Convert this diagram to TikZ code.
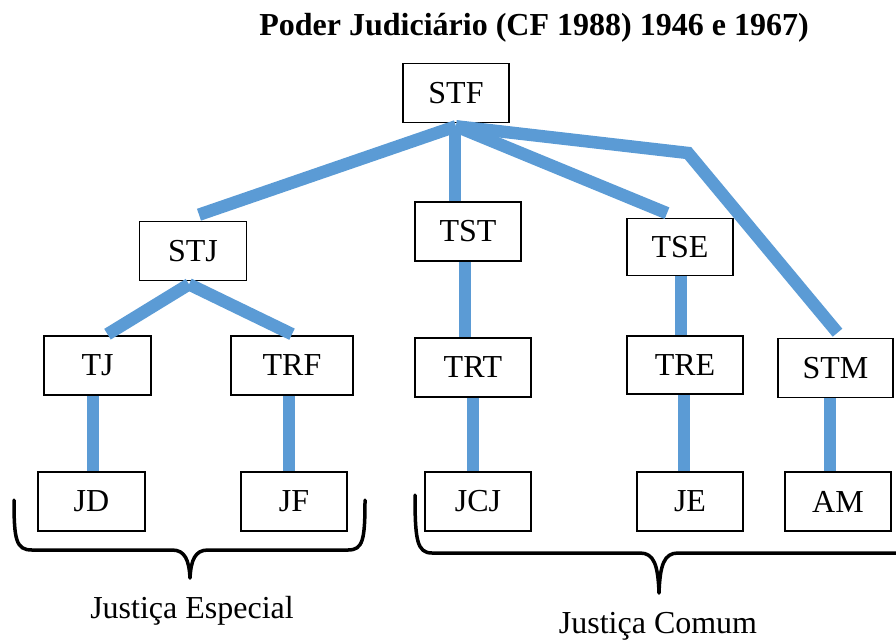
\documentclass[tikz,border=0pt]{standalone}
\usepackage{fontspec}
\setmainfont{Liberation Serif}
\usetikzlibrary{calc}
\definecolor{linkblue}{HTML}{5B9BD5}
\begin{document}
\begin{tikzpicture}[x=1pt,y=-1pt,
  court/.style={draw=black, line width=1.6pt, fill=white, minimum height=59pt,
    minimum width=106pt, inner sep=0pt, font=\fontsize{32}{38}\selectfont},
  link/.style={draw=linkblue, line width=12.5pt},
  brace/.style={draw=black, line width=3.5pt, line join=round, line cap=round},
  caption/.style={font=\fontsize{32}{38}\selectfont, inner sep=0pt}]
\useasboundingbox (0,0) rectangle (896,640);

% title
\node[caption, font=\fontsize{32}{38}\selectfont\bfseries] (title) at (534,28)
  {Poder Judiciário (CF 1988) 1946 e 1967)};

% courts
\node[court] (stf) at (456,93) {STF};
\node[court, minimum width=107pt] (stj) at (193,251) {STJ};
\node[court] (tst) at (468,231.5) {TST};
\node[court, minimum height=57pt] (tse) at (680,247) {TSE};
\node[court, minimum width=107pt] (tj) at (97.5,365.5) {TJ};
\node[court, minimum width=122pt] (trf) at (292,365.5) {TRF};
\node[court, minimum width=116pt] (trt) at (473,367.5) {TRT};
\node[court, minimum width=116pt, minimum height=58pt] (tre) at (685,365) {TRE};
\node[court, minimum width=115pt] (stm) at (835.5,368) {STM};
\node[court, minimum width=107pt] (jd) at (91.5,501.5) {JD};
\node[court] (jf) at (294,501.5) {JF};
\node[court] (jcj) at (478,501.5) {JCJ};
\node[court] (je) at (690,501.5) {JE};
\node[court] (am) at (838,501.5) {AM};

% links from STF
\coordinate (hub) at ([yshift=-3pt]stf.south);
\coordinate (stmbend) at (688,153);
\draw[link] (hub) -- ($(stj.north)+(6,-6)$);
\draw[link] ([xshift=-1pt]hub) -- ([xshift=-13pt]tst.north);
\draw[link] (hub) -- ($(tse.north)+(-13,-4.5)$);
\draw[link] (hub) -- (stmbend) -- ($(stm.north)+(2,-5)$);

% links from STJ
\coordinate (stjfork) at ([xshift=-4pt,yshift=-3pt]stj.south);
\draw[link] (stjfork) -- ($(tj.north)+(10,-1)$);
\draw[link] (stjfork) -- ($(trf.north)+(0,-1)$);

% vertical links
\draw[link] ([xshift=-4.5pt]tj.south) -- ([xshift=-4.5pt]tj.south |- jd.north);
\draw[link] ([xshift=-3pt]trf.south) -- ([xshift=-3pt]trf.south |- jf.north);
\draw[link] ([xshift=-3pt]tst.south) -- ([xshift=-3pt]tst.south |- trt.north);
\draw[link] (trt.south) -- (trt.south |- jcj.north);
\draw[link] ([xshift=1pt]tse.south) -- ([xshift=1pt]tse.south |- tre.north);
\draw[link] ([xshift=-1pt]tre.south) -- ([xshift=-1pt]tre.south |- je.north);
\draw[link] ([xshift=-5.5pt]stm.south) -- ([xshift=-5.5pt]stm.south |- am.north);

% braces
\draw[brace] (14,500) .. controls (14,540) and (16,550) .. (32,550) -- (172,550)
  .. controls (185,550) and (189,560) .. (190,578)
  .. controls (191,560) and (195,550) .. (208,550) -- (348,550)
  .. controls (363,550) and (365,540) .. (365,500);
\draw[brace] (415,495) .. controls (415,540) and (417,553) .. (432,553) -- (640,553)
  .. controls (654,553) and (658,565) .. (659,593)
  .. controls (660,565) and (664,553) .. (678,553) -- (900,553);

% group labels
\node[caption] (especial) at (192,611) {Justiça Especial};
\node[caption] (comum) at (658,626) {Justiça Comum};
\end{tikzpicture}
\end{document}
